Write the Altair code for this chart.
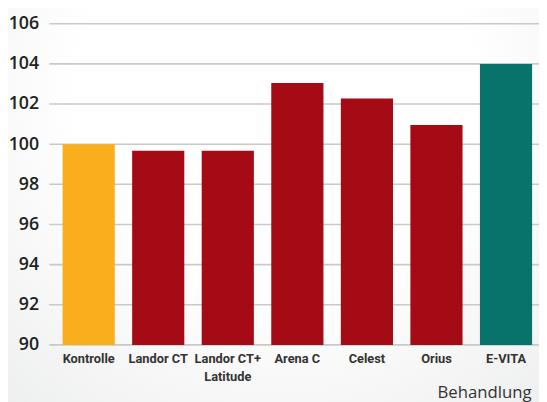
import altair as alt
import pandas as pd

categories = ["Kontrolle", "Landor CT", "Landor CT+ Latitude", "Arena C", "Celest", "Orius", "E-VITA"]
values = [100.0, 99.67, 99.67, 103.05, 102.27, 100.96, 104.0]
bar_colors = ["#F9AE1B", "#A50B14", "#A50B14", "#A50B14", "#A50B14", "#A50B14", "#07736A"]
y_ticks = [90, 92, 94, 96, 98, 100, 102, 104, 106]

W, H = 490, 326

df = pd.DataFrame({"Behandlung": categories, "Wert": values, "Farbe": bar_colors})
grid_df = pd.DataFrame({"g": y_ticks})

y_scale = alt.Scale(domain=[90, 106], nice=False, zero=False)

bg = alt.Chart(pd.DataFrame({"a": [0]})).mark_rect(
    color=alt.Gradient(
        gradient="radial",
        stops=[alt.GradientStop(offset=0, color="#ffffff"),
               alt.GradientStop(offset=0.4, color="#ffffff"),
               alt.GradientStop(offset=1, color="#e7e8e9")],
        x1=0.5, y1=0.3, r1=0, x2=0.5, y2=0.3, r2=0.9,
    )
).encode(
    x=alt.value(-50), x2=alt.value(W + 20),
    y=alt.value(-25), y2=alt.value(H + 70),
)

grid = alt.Chart(grid_df).mark_rule(color="#c9c9c9", strokeWidth=1.6).encode(
    y=alt.Y("g:Q", scale=y_scale),
    x=alt.value(0), x2=alt.value(W + 10),
)

bars = alt.Chart(df).mark_bar().encode(
    x=alt.X("Behandlung:N", sort=categories,
            scale=alt.Scale(paddingInner=0.25, paddingOuter=0.095, align=1),
            axis=alt.Axis(
                title="Behandlung", labelAngle=0, domain=False, ticks=False, zindex=1,
                labelFont="Roboto", labelFontWeight="bold",
                labelFontSize=13, labelColor="#333333", labelPadding=8,
                labelLineHeight=18,
                labelExpr="datum.label == 'Landor CT+ Latitude' ? ['Landor CT+', 'Latitude'] : datum.label",
                titleFont="Open Sans", titleFontWeight="normal", titleFontSize=17,
                titleColor="#333333", titleAlign="right", titleBaseline="alphabetic",
                titleX=489, titleY=53, titleAnchor="end")),
    y=alt.Y("Wert:Q", scale=y_scale,
            axis=alt.Axis(values=y_ticks, title=None, domain=False, ticks=False, grid=False,
                          zindex=1,
                          labelFont="Open Sans", labelFontSize=18, labelFontWeight=600,
                          labelColor="#222222", labelPadding=11)),
    y2=alt.datum(90),
    color=alt.Color("Farbe:N", scale=None),
)

chart = alt.layer(bg, grid, bars).resolve_axis(y="shared").properties(
    width=W, height=H,
    autosize=alt.AutoSizeParams(type="none"),
    padding={"left": 42, "top": 13, "right": 7, "bottom": 55},
    background="#eeeeef",
).configure_view(stroke=None)

chart.save("out.html", embed_options={"renderer": "svg", "actions": False})
